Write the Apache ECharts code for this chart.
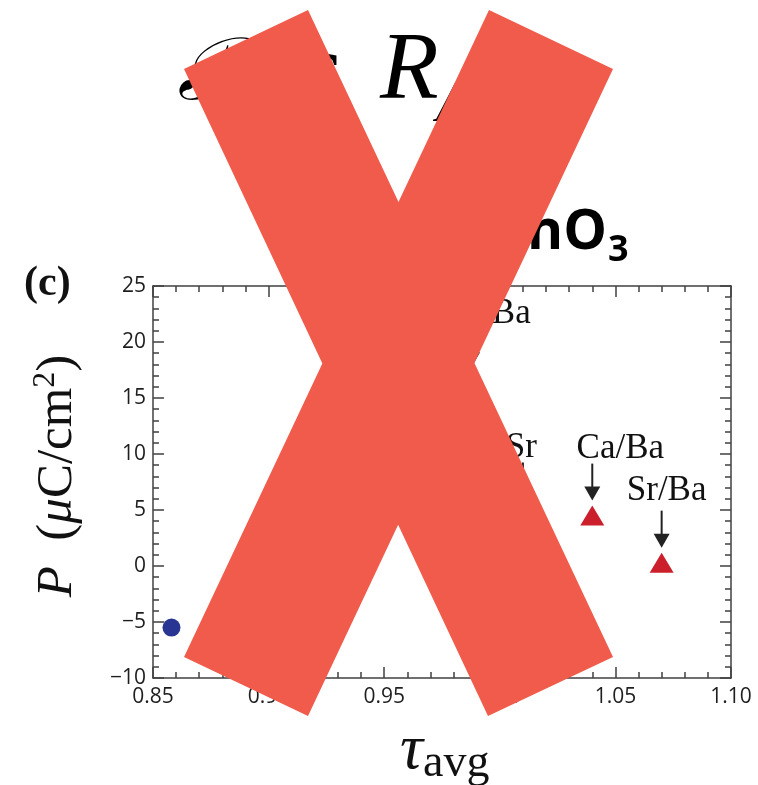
<!DOCTYPE html>
<html>
<head>
<meta charset="utf-8">
<script src="https://cdn.jsdelivr.net/npm/echarts@6/dist/echarts.min.js"></script>
<style>
  html, body { margin: 0; padding: 0; background: #fff; }
  #chart { width: 758px; height: 785px; }
</style>
</head>
<body>
<div id="chart"></div>
<script>
// Single-cation reference compound
const baseTau = [0.858];
const baseP = [-5.5];

// Mixed A-site pairs
const pairLabels = ['Mg/Ba', 'Ca/Sr', 'Ca/Ba', 'Sr/Ba'];
const pairTau = [0.988, 1.010, 1.040, 1.070];
const pairP = [16.5, 4.6, 4.5, 0.3];

// Axis ranges
const tauRange = [0.85, 1.10, 0.05];
const pRange = [-10, 25, 5];

// Where each pair's label text sits relative to its point (px)
const labelOffsets = [[10, -67], [-26, -67], [28, -67], [5, -72]];

const AXIS_COLOR = '#404040';
const lineStyle = { color: AXIS_COLOR, width: 1.5 };
const tickFont = { color: '#1e1e1e', fontFamily: '"Open Sans", "DejaVu Sans", sans-serif', fontSize: 21 };

function makeX(pos, showLabels) {
  return {
    type: 'value', position: pos, gridIndex: 0,
    min: tauRange[0], max: tauRange[1], interval: tauRange[2],
    axisLine: { show: true, onZero: false, lineStyle },
    axisTick: { show: true, inside: true, length: 11, lineStyle },
    minorTick: { show: true, splitNumber: 5, length: 6, lineStyle },
    splitLine: { show: false }, minorSplitLine: { show: false },
    axisLabel: Object.assign({ show: showLabels, margin: 9,
      formatter: v => v.toFixed(2) }, tickFont)
  };
}
function makeY(pos, showLabels) {
  return {
    type: 'value', position: pos, gridIndex: 0,
    min: pRange[0], max: pRange[1], interval: pRange[2],
    axisLine: { show: true, onZero: false, lineStyle },
    axisTick: { show: true, inside: true, length: 11, lineStyle },
    minorTick: { show: true, splitNumber: 5, length: 6, lineStyle },
    splitLine: { show: false }, minorSplitLine: { show: false },
    axisLabel: Object.assign({ show: showLabels, margin: 7,
      formatter: v => (v < 0 ? '\u2212' + Math.abs(v) : String(v)) }, tickFont)
  };
}

const chart = echarts.init(document.getElementById('chart'), null, { renderer: 'canvas' });

chart.setOption({
  animation: false,
  backgroundColor: '#fff',
  grid: { left: 153, top: 286, width: 578, height: 392, containLabel: false },
  xAxis: [makeX('bottom', true), makeX('top', false)],
  yAxis: [makeY('left', true), makeY('right', false)],
  series: [
    {
      type: 'scatter', xAxisIndex: 0, yAxisIndex: 0,
      symbol: 'circle', symbolSize: 18,
      itemStyle: { color: '#283593', opacity: 1 },
      data: baseTau.map((t, i) => [t, baseP[i]]),
      z: 3
    },
    {
      type: 'scatter', xAxisIndex: 0, yAxisIndex: 0,
      symbol: 'triangle', symbolSize: [24, 20],
      itemStyle: { color: '#cb1f2b', opacity: 1 },
      data: pairTau.map((t, i) => [t, pairP[i]]),
      z: 3
    }
  ]
});

const SERIF = '"Liberation Serif", "DejaVu Serif", serif';
const graphics = [];

// Labelled arrows pointing at each mixed pair
pairTau.forEach((t, i) => {
  const [px, py] = chart.convertToPixel({ gridIndex: 0 }, [t, pairP[i]]);
  const [dx, dy] = labelOffsets[i];
  const tipY = py - 15;
  const startY = tipY - 37;
  graphics.push({
    type: 'line', z: 50,
    shape: { x1: px, y1: startY, x2: px, y2: tipY - 10 },
    style: { stroke: '#222', lineWidth: 2 }
  });
  graphics.push({
    type: 'polygon', z: 50,
    shape: { points: [[px - 8, tipY - 14], [px + 8, tipY - 14], [px, tipY]] },
    style: { fill: '#222' }
  });
  graphics.push({
    type: 'text', z: 50, x: px + dx, y: py + dy,
    style: { text: pairLabels[i], font: '35px ' + SERIF, fill: '#111',
      align: 'center', verticalAlign: 'middle' }
  });
});

// Panel letter
graphics.push({
  type: 'text', z: 50, x: 24, y: 284,
  style: { text: '(c)', font: 'bold 42px ' + SERIF, fill: '#111',
    align: 'left', verticalAlign: 'middle' }
});

// Title lines
graphics.push({
  type: 'text', z: 50, x: 177, y: 76,
  style: { text: '\u{1D4AB}', font: 'italic 88px ' + SERIF, fill: '#000',
    align: 'left', verticalAlign: 'middle' }
});
graphics.push({
  type: 'text', z: 50, x: 343, y: 74,
  style: { text: 'vs', font: '96px ' + SERIF, fill: '#000',
    align: 'right', verticalAlign: 'middle' }
});
graphics.push({
  type: 'text', z: 50, x: 380, y: 73,
  style: { text: 'R', font: 'italic 96px ' + SERIF, fill: '#000',
    align: 'left', verticalAlign: 'middle' }
});
graphics.push({
  type: 'text', z: 50, x: 436, y: 106,
  style: { text: 'A', font: 'italic 56px ' + SERIF, fill: '#000',
    align: 'left', verticalAlign: 'middle' }
});
graphics.push({
  type: 'text', z: 50, x: 607, y: 233,
  style: { text: 'ASnO', font: 'bold 55px "Open Sans", "Noto Sans", sans-serif', fill: '#000',
    align: 'right', verticalAlign: 'middle' }
});
graphics.push({
  type: 'text', z: 50, x: 608, y: 251,
  style: { text: '3', font: 'bold 36px "Open Sans", "Noto Sans", sans-serif', fill: '#000',
    align: 'left', verticalAlign: 'middle' }
});

// Axis titles
graphics.push({
  type: 'text', z: 50, x: 58, y: 476, rotation: Math.PI / 2,
  style: {
    text: '{i|P}{r|  (}{i|\u03BC}{r|C/cm}{s|2}{r|)}',
    align: 'center', verticalAlign: 'middle', fill: '#111',
    rich: {
      i: { font: 'italic 51px ' + SERIF, fill: '#111', lineHeight: 56 },
      r: { font: '51px ' + SERIF, fill: '#111', lineHeight: 56 },
      s: { font: '32px ' + SERIF, fill: '#111', verticalAlign: 'top', lineHeight: 56 }
    }
  }
});
graphics.push({
  type: 'text', z: 50, x: 423, y: 751,
  style: { text: '\u03C4', font: 'italic 64px ' + SERIF, fill: '#111',
    align: 'right', verticalAlign: 'middle' }
});
graphics.push({
  type: 'text', z: 50, x: 423, y: 764,
  style: { text: 'avg', font: '46px ' + SERIF, fill: '#111',
    align: 'left', verticalAlign: 'middle' }
});

// Large cross drawn over the figure
const CROSS = '#f05b4b';
graphics.push({
  type: 'polygon', z: 100,
  shape: { points: [[184, 69], [308, 10], [613, 657], [488, 716]] },
  style: { fill: CROSS }
});
graphics.push({
  type: 'polygon', z: 100,
  shape: { points: [[489, 10], [613, 69], [308, 716], [184, 657]] },
  style: { fill: CROSS }
});

chart.setOption({ graphic: graphics });
</script>
</body>
</html>
